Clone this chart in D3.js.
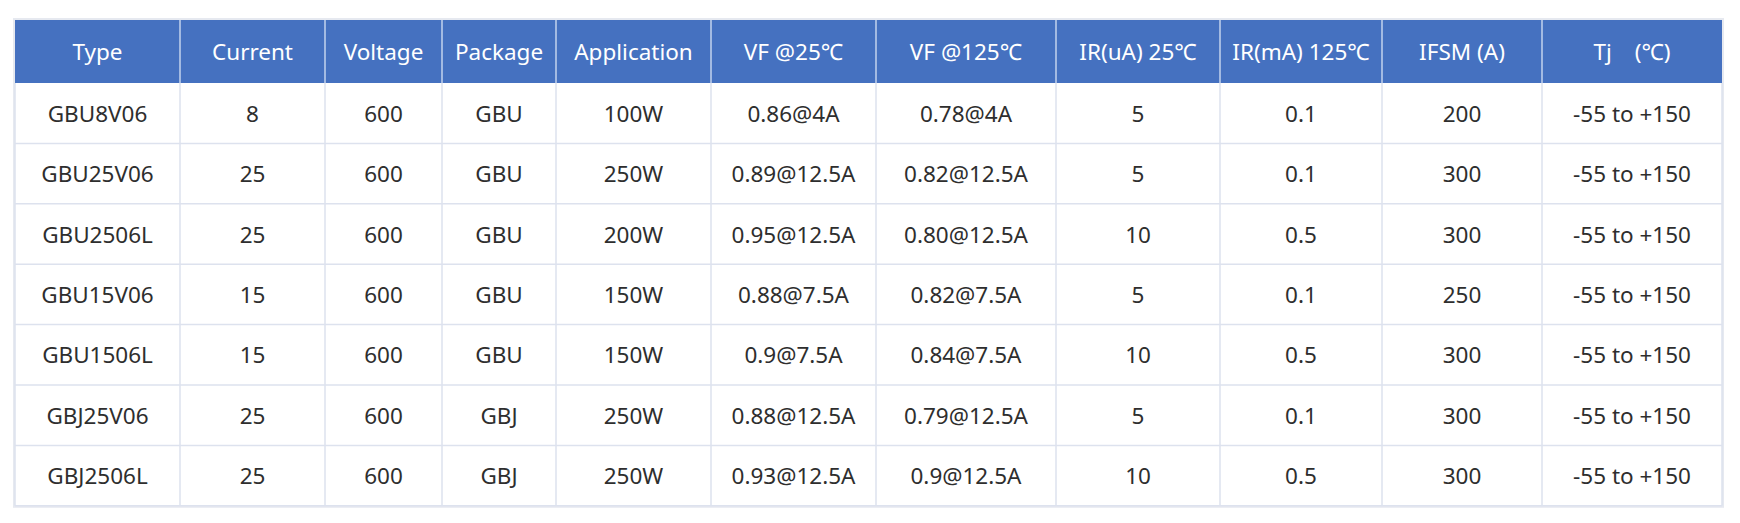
<!DOCTYPE html>
<html><head><meta charset="utf-8">
<script src="https://cdn.jsdelivr.net/npm/d3@7"></script>
<style>
html,body{margin:0;padding:0;background:#fff;}
svg{display:block;}
</style>
</head><body>
<svg id="chart" width="1740" height="523"></svg>
<script>
const headers = ["Type","Current","Voltage","Package","Application","VF @25℃","VF @125℃","IR(uA) 25℃","IR(mA) 125℃","IFSM (A)","Tj　(℃)"];
const types = ["GBU8V06","GBU25V06","GBU2506L","GBU15V06","GBU1506L","GBJ25V06","GBJ2506L"];
const currents = ["8","25","25","15","15","25","25"];
const voltages = ["600","600","600","600","600","600","600"];
const packages = ["GBU","GBU","GBU","GBU","GBU","GBJ","GBJ"];
const applications = ["100W","250W","200W","150W","150W","250W","250W"];
const vf25 = ["0.86@4A","0.89@12.5A","0.95@12.5A","0.88@7.5A","0.9@7.5A","0.88@12.5A","0.93@12.5A"];
const vf125 = ["0.78@4A","0.82@12.5A","0.80@12.5A","0.82@7.5A","0.84@7.5A","0.79@12.5A","0.9@12.5A"];
const ir25 = ["5","5","10","5","10","5","10"];
const ir125 = ["0.1","0.1","0.5","0.1","0.5","0.1","0.5"];
const ifsm = ["200","300","300","250","300","300","300"];
const tj = ["-55 to +150","-55 to +150","-55 to +150","-55 to +150","-55 to +150","-55 to +150","-55 to +150"];

const columns = [types,currents,voltages,packages,applications,vf25,vf125,ir25,ir125,ifsm,tj];
const rows = types.map((_, i) => columns.map(c => c[i]));

// layout
const colEdges = [15,180,325,442,556,711,876,1056,1220,1382,1542,1722];
const tableTop = 20, headH = 63, rowH = 60.4;
const svg = d3.select("#chart");
const font = "'Noto Sans','Open Sans',sans-serif";
const fs = 22.5;

const x = i => colEdges[i];
const y = d3.scaleLinear().domain([0, rows.length]).range([tableTop + headH, tableTop + headH + rowH * rows.length]);

// subtle shadow frame
svg.append("rect").attr("x", x(0) - 1).attr("y", tableTop - 1)
  .attr("width", x(11) - x(0) + 2).attr("height", y(rows.length) - tableTop + 2)
  .attr("fill", "none").attr("stroke", "#e6e9f0").attr("stroke-width", 2);

// header
svg.append("rect").attr("x", x(0)).attr("y", tableTop).attr("width", x(11) - x(0)).attr("height", headH)
  .attr("fill", "#4571c0");

// body background
svg.append("rect").attr("x", x(0)).attr("y", y(0)).attr("width", x(11) - x(0)).attr("height", y(rows.length) - y(0))
  .attr("fill", "#ffffff");

// header separators
svg.selectAll("line.hsep").data(d3.range(1, 11)).join("line").attr("class", "hsep")
  .attr("x1", d => x(d)).attr("x2", d => x(d)).attr("y1", tableTop).attr("y2", tableTop + headH)
  .attr("stroke", "#c3d3ee").attr("stroke-width", 1.5);

// body vertical lines
svg.selectAll("line.vsep").data(d3.range(0, 12)).join("line").attr("class", "vsep")
  .attr("x1", d => x(d)).attr("x2", d => x(d)).attr("y1", y(0)).attr("y2", y(rows.length))
  .attr("stroke", "#dde2ee").attr("stroke-width", 1.5);

// body horizontal lines
svg.selectAll("line.rsep").data(d3.range(1, rows.length + 1)).join("line").attr("class", "rsep")
  .attr("x1", x(0)).attr("x2", x(11)).attr("y1", d => y(d)).attr("y2", d => y(d))
  .attr("stroke", "#dde2ee").attr("stroke-width", 1.5);

// header text
svg.selectAll("text.head").data(headers).join("text").attr("class", "head")
  .attr("x", (d, i) => (x(i) + x(i + 1)) / 2).attr("y", tableTop + headH / 2)
  .attr("text-anchor", "middle").attr("dominant-baseline", "central")
  .attr("font-family", font).attr("font-size", fs).attr("fill", "#ffffff")
  .text(d => d);

// body text
const g = svg.selectAll("g.row").data(rows).join("g").attr("class", "row");
g.selectAll("text").data((r, ri) => r.map((v, ci) => ({ v, ci, ri }))).join("text")
  .attr("x", d => (x(d.ci) + x(d.ci + 1)) / 2).attr("y", d => (y(d.ri) + y(d.ri + 1)) / 2)
  .attr("text-anchor", "middle").attr("dominant-baseline", "central")
  .attr("font-family", font).attr("font-size", fs).attr("fill", "#2e2e2e")
  .text(d => d.v);
</script>
</body></html>
